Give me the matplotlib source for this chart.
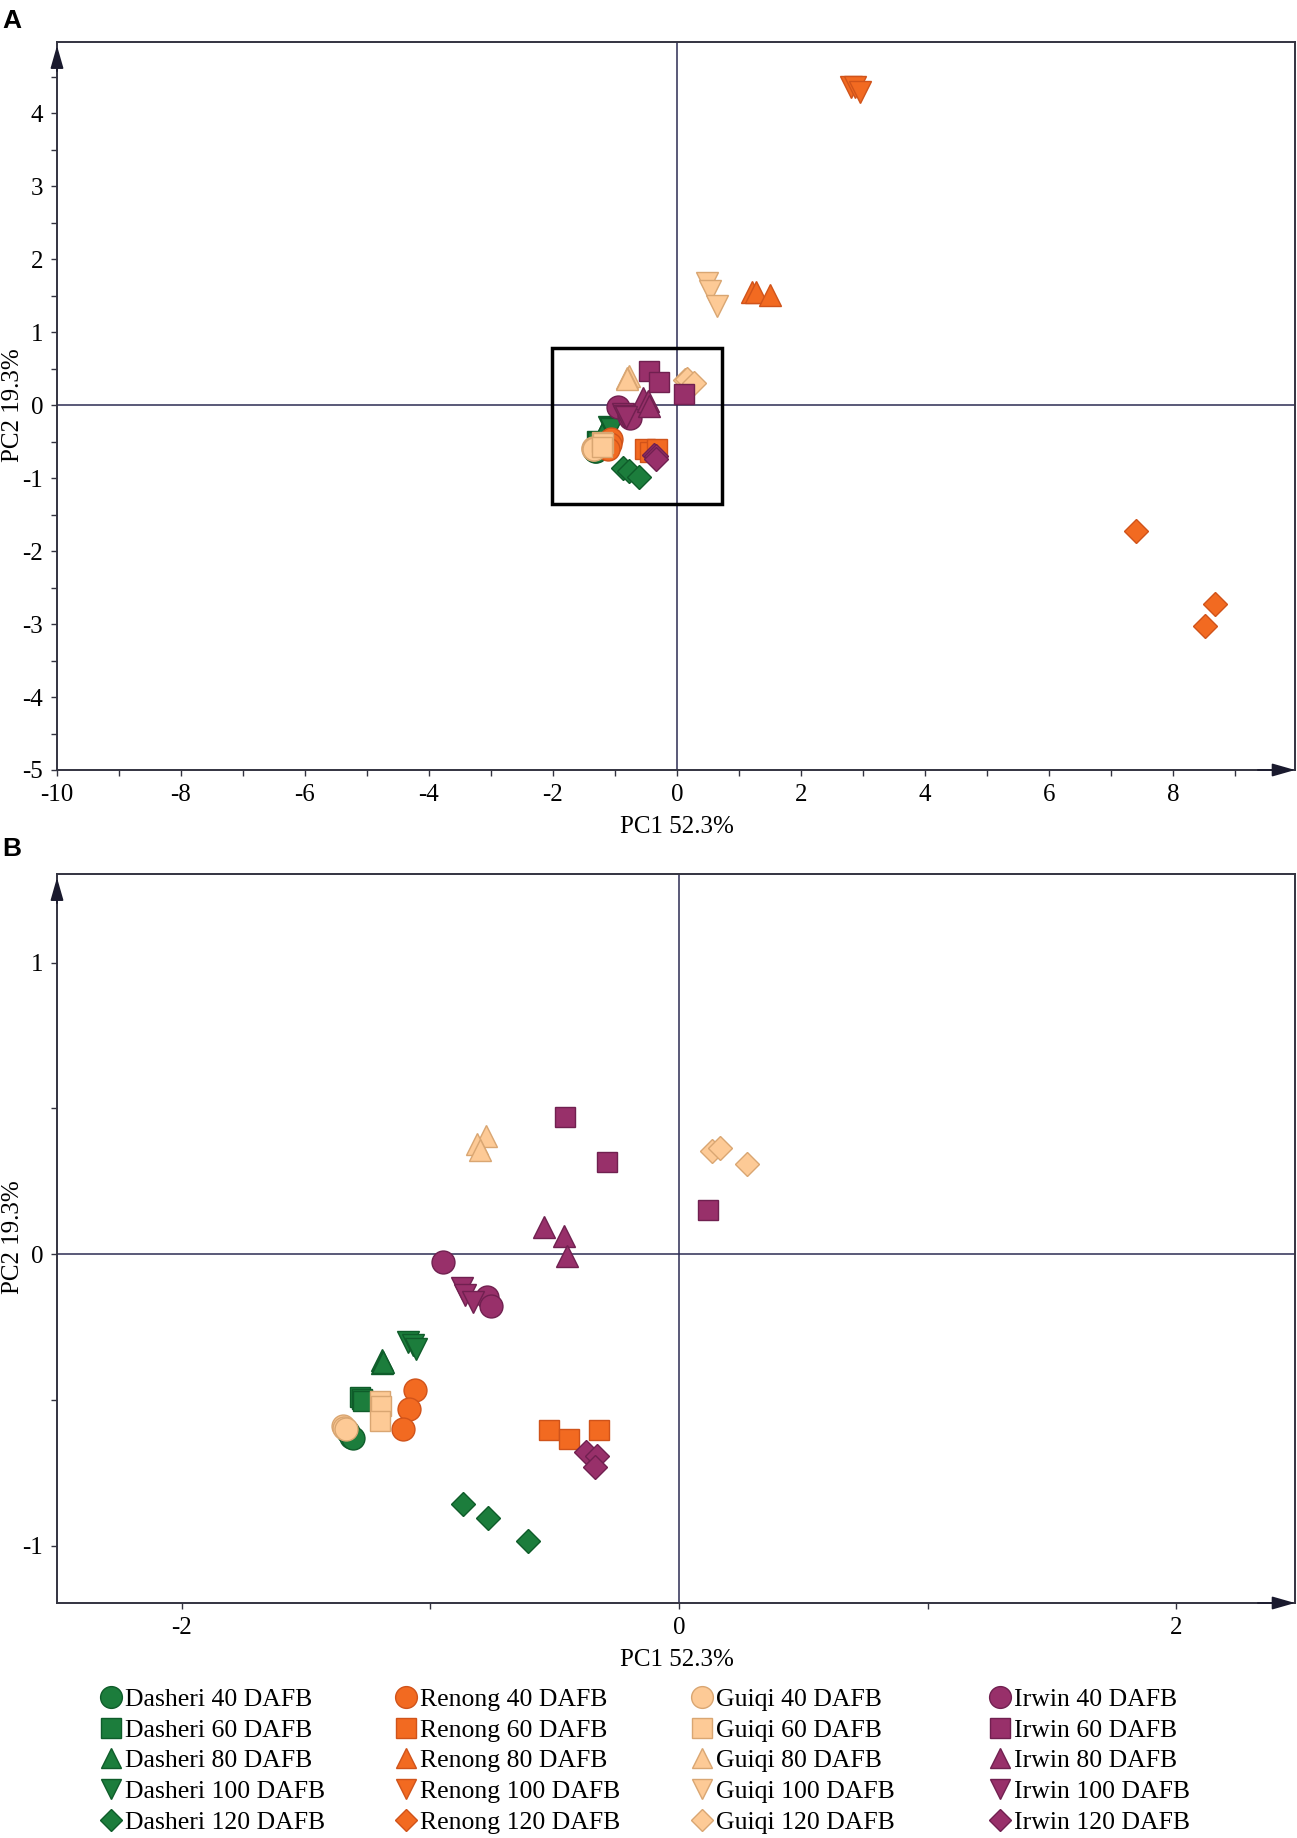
import numpy as np
import matplotlib.pyplot as plt
from matplotlib.patches import Rectangle
from matplotlib.lines import Line2D

plt.rcParams['font.family'] = ['Liberation Serif', 'DejaVu Serif']
plt.rcParams['axes.unicode_minus'] = False

# PCA scores, 3 replicates per cultivar / stage
cultivars = ['Dasheri', 'Renong', 'Guiqi', 'Irwin']
stages = ['40', '60', '80', '100', '120']

dasheri_x = [[-1.33, -1.32, -1.31], [-1.283, -1.276, -1.27], [-1.196, -1.196, -1.19],
             [-1.088, -1.068, -1.057], [-0.867, -0.767, -0.606]]
dasheri_y = [[-0.61, -0.628, -0.631], [-0.49, -0.498, -0.505], [-0.364, -0.375, -0.37],
             [-0.301, -0.312, -0.324], [-0.858, -0.907, -0.985]]

renong_x = [[-1.061, -1.084, -1.108], [-0.521, -0.442, -0.32], [1.21, 1.28, 1.50],
            [2.80, 2.88, 2.95], [7.41, 8.68, 8.52]]
renong_y = [[-0.467, -0.533, -0.601], [-0.602, -0.634, -0.602], [1.55, 1.55, 1.51],
            [4.36, 4.36, 4.30], [-1.73, -2.73, -3.03]]

guiqi_x = [[-1.35, -1.346, -1.34], [-1.202, -1.20, -1.202], [-0.777, -0.811, -0.80],
           [0.49, 0.53, 0.64], [0.131, 0.165, 0.272]]
guiqi_y = [[-0.59, -0.595, -0.60], [-0.504, -0.52, -0.573], [0.405, 0.377, 0.357],
           [1.67, 1.56, 1.36], [0.353, 0.363, 0.309]]

irwin_x = [[-0.948, -0.773, -0.756], [-0.458, -0.291, 0.115], [-0.543, -0.461, -0.449],
           [-0.874, -0.86, -0.827], [-0.374, -0.331, -0.338]]
irwin_y = [[-0.026, -0.146, -0.178], [0.471, 0.317, 0.151], [0.094, 0.062, -0.007],
           [-0.118, -0.141, -0.164], [-0.678, -0.693, -0.732]]

all_x = [dasheri_x, renong_x, guiqi_x, irwin_x]
all_y = [dasheri_y, renong_y, guiqi_y, irwin_y]

face = ['#1c7d3c', '#f26a21', '#fdca96', '#98306a']
edge = ['#0f5c2a', '#d0531a', '#d9a672', '#702050']
markers = ['o', 's', '^', 'v', 'D']
msizes = [16.5, 14.5, 15.5, 15.5, 12]

W, H = 1297, 1838
fig = plt.figure(figsize=(W / 100, H / 100), dpi=100)

def px_axes(l, t, r, b):
    return fig.add_axes([l / W, 1 - b / H, (r - l) / W, (b - t) / H])

axA = px_axes(57, 42, 1295, 770)
axB = px_axes(57, 874, 1295, 1603)

for ax in (axA, axB):
    ax.axhline(0, color='#2c2c54', lw=1.1, zorder=1)
    ax.axvline(0, color='#2c2c54', lw=1.1, zorder=1)
    for c in range(4):
        for s in range(5):
            ax.plot(all_x[c][s], all_y[c][s], ls='none', marker=markers[s],
                    ms=msizes[s], mfc=face[c], mec=edge[c], mew=1.0, zorder=3)
    for sp in ax.spines.values():
        sp.set_color('#333340')
        sp.set_linewidth(1.4)
    ax.tick_params(direction='out', length=4, width=1, color='#333340',
                   labelsize=18, pad=6)
    ax.tick_params(which='minor', direction='out', length=4, width=1, color='#333340')
    # arrow heads on the axes
    ap = dict(arrowstyle='-|>,head_length=0.7,head_width=0.2', mutation_scale=20,
              color='#1a1a2e', lw=1.2, shrinkA=0, shrinkB=0)
    ax.annotate('', xy=(1, 0), xytext=(0.97, 0), xycoords='axes fraction',
                arrowprops=ap, annotation_clip=False)
    ax.annotate('', xy=(0, 0.995), xytext=(0, 0.96), xycoords='axes fraction',
                arrowprops=ap, annotation_clip=False)

axA.set_xlim(-10, 9.97)
axA.set_ylim(-5, 4.98)
axA.set_xticks(np.arange(-10, 9, 2))
axA.set_xticks(np.arange(-9, 10, 2), minor=True)
axA.set_yticks(np.arange(-5, 5, 1))
axA.set_yticks(np.arange(-4.5, 5, 1), minor=True)
axA.add_patch(Rectangle((-2.02, -1.35), 2.74, 2.14, fill=False, lw=2.5,
                        ec='black', zorder=4))

axB.set_xlim(-2.501, 2.477)
axB.set_ylim(-1.197, 1.304)
axB.set_xticks([-2, 0, 2])
axB.set_xticks([-1, 1], minor=True)
axB.set_yticks([-1, 0, 1])
axB.set_yticks([-0.5, 0.5], minor=True)

# axis titles and panel letters
fig.text(677 / W, 1 - 827 / H, 'PC1 52.3%', fontsize=18, ha='center', va='center')
fig.text(677 / W, 1 - 1660 / H, 'PC1 52.3%', fontsize=18, ha='center', va='center')
fig.text(13 / W, 1 - 405 / H, 'PC2 19.3%', fontsize=18, ha='center', va='center', rotation=90)
fig.text(13 / W, 1 - 1237 / H, 'PC2 19.3%', fontsize=18, ha='center', va='center', rotation=90)
fig.text(12 / W, 1 - 21 / H, 'A', fontsize=19, fontweight='bold', family='Liberation Sans',
         ha='center', va='center')
fig.text(12 / W, 1 - 849 / H, 'B', fontsize=19, fontweight='bold', family='Liberation Sans',
         ha='center', va='center')

# legend: one block per cultivar
col_x = [99, 394, 690, 988]
for c in range(4):
    handles = [Line2D([], [], ls='none', marker=markers[s], ms=msizes[s] * 0.95,
                      mfc=face[c], mec=edge[c], mew=1.0) for s in range(5)]
    labels = [cultivars[c] + ' ' + st + ' DAFB' for st in stages]
    fig.legend(handles, labels, loc='upper left', bbox_to_anchor=(col_x[c] / W, 1 - 1688 / H),
               frameon=False, fontsize=18.5, handlelength=0.9, handletextpad=0.1,
               labelspacing=0.3, borderpad=0, borderaxespad=0)

fig.savefig('out.png', dpi=100)
